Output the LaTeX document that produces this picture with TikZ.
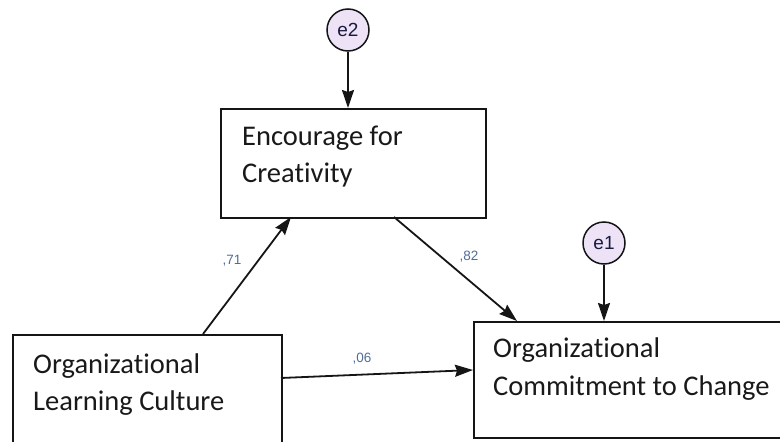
\documentclass[tikz,border=0pt]{standalone}
\usepackage{fontspec}
\setmainfont{Carlito}[Ligatures=NoCommon]
\newfontfamily\labelfont{Liberation Sans}
\usetikzlibrary{arrows.meta}
\definecolor{linegray}{HTML}{151515}
\definecolor{errfill}{HTML}{EDE2F6}
\definecolor{coefblue}{HTML}{4F6D98}
\definecolor{errtext}{HTML}{1A1A40}
\tikzset{
  varbox/.style={draw=linegray, line width=1.6pt, fill=white, rectangle, inner sep=0pt, anchor=north west},
  boxtext/.style={anchor=base west, inner sep=0pt, font=\fontsize{28.5}{37}\selectfont, text=black!90},
  errnode/.style={draw=linegray, line width=1.5pt, fill=errfill, circle, minimum size=42pt, inner sep=0pt,
    font=\labelfont\fontsize{19}{19}\selectfont, text=errtext},
  path/.style={draw=linegray, line width=1.8pt, -{Stealth[length=18pt,width=12pt,inset=2pt]}},
  coef/.style={inner sep=0pt, font=\labelfont\fontsize{13.5}{13.5}\selectfont, text=coefblue}
}
\begin{document}
\begin{tikzpicture}[x=1pt, y=-1pt]
  \useasboundingbox (0,0) rectangle (780,442);
  \clip (0,0) rectangle (780,442);

  % observed variables
  \node[varbox, minimum width=265pt, minimum height=109pt] (enc) at (220,108) {};
  \node[varbox, minimum width=269pt, minimum height=130pt] (olc) at (12,334) {};
  \node[varbox, minimum width=330pt, minimum height=116pt] (occ) at (473,321) {};

  \node[boxtext] (enc1) at (242,145) {Encourage for};
  \node[boxtext] (enc2) at (242,182) {Creativity};
  \node[boxtext] (olc1) at (33,373) {Organizational};
  \node[boxtext] (olc2) at (33,410) {Learning Culture};
  \node[boxtext] (occ1) at (493,357) {Organizational};
  \node[boxtext] (occ2) at (493,395) {Commitment to Change};

  % error terms
  \node[errnode] (e2) at (348,30) {e2};
  \node[errnode] (e1) at (604,243) {e1};

  % anchor points on the box edges
  \coordinate (olcTop) at (203,334);
  \coordinate (encIn) at (291,217);
  \coordinate (encOut) at (394,217);
  \coordinate (occIn) at (517,321);
  \coordinate (olcRight) at (281,378);
  \coordinate (occLeft) at (473,370);

  % structural paths
  \draw[path] (e2.south) -- (e2.south |- enc.north);
  \draw[path] (e1.south) -- (e1.south |- occ.north);
  \draw[path] (olcTop) -- (encIn);
  \draw[path] (encOut) -- (occIn);
  \draw[path] (olcRight) -- (occLeft);

  % standardized coefficients
  \node[coef] (c71) at (232,261) {,71};
  \node[coef] (c82) at (469,257) {,82};
  \node[coef] (c06) at (362,359) {,06};
\end{tikzpicture}
\end{document}
